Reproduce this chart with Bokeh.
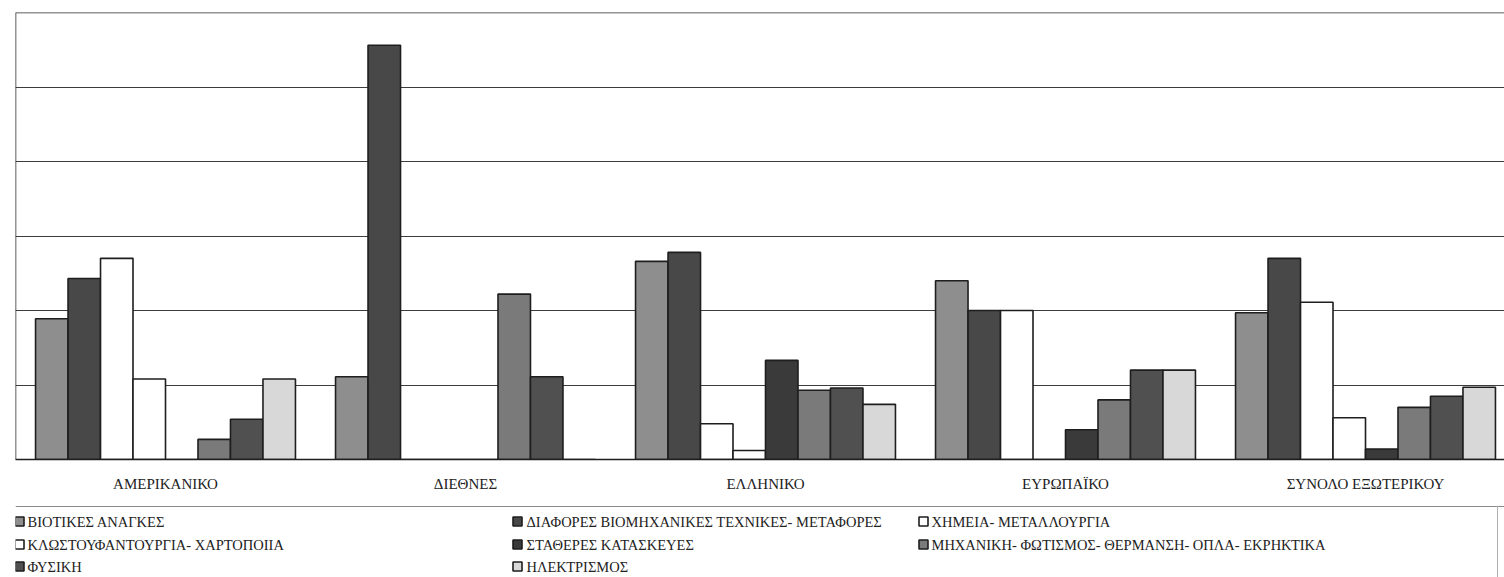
from bokeh.plotting import figure
from bokeh.models import Range1d, FixedTicker, Span, ColumnDataSource
from bokeh.layouts import column
from bokeh.embed import file_html
from bokeh.resources import INLINE
from bokeh.core.properties import value

# ---- data (percent of category) ----
categories = ["ΑΜΕΡΙΚΑΝΙΚΟ", "ΔΙΕΘΝΕΣ", "ΕΛΛΗΝΙΚΟ", "ΕΥΡΩΠΑΪΚΟ", "ΣΥΝΟΛΟ ΕΞΩΤΕΡΙΚΟΥ"]
series_names = [
    "ΒΙΟΤΙΚΕΣ ΑΝΑΓΚΕΣ",
    "ΔΙΑΦΟΡΕΣ ΒΙΟΜΗΧΑΝΙΚΕΣ ΤΕΧΝΙΚΕΣ- ΜΕΤΑΦΟΡΕΣ",
    "ΧΗΜΕΙΑ- ΜΕΤΑΛΛΟΥΡΓΙΑ",
    "ΚΛΩΣΤΟΥΦΑΝΤΟΥΡΓΙΑ- ΧΑΡΤΟΠΟΙΙΑ",
    "ΣΤΑΘΕΡΕΣ ΚΑΤΑΣΚΕΥΕΣ",
    "ΜΗΧΑΝΙΚΗ- ΦΩΤΙΣΜΟΣ- ΘΕΡΜΑΝΣΗ- ΟΠΛΑ- ΕΚΡΗΚΤΙΚΑ",
    "ΦΥΣΙΚΗ",
    "ΗΛΕΚΤΡΙΣΜΟΣ",
]
viotikes = [18.9, 11.1, 26.6, 24.0, 19.7]
diafores = [24.3, 55.6, 27.8, 20.0, 27.0]
chimeia = [27.0, 0.0, 4.8, 20.0, 21.1]
klostoyf = [10.8, 0.0, 1.2, 0.0, 5.6]
statheres = [0.0, 0.0, 13.3, 4.0, 1.4]
michaniki = [2.7, 22.2, 9.3, 8.0, 7.0]
fysiki = [5.4, 11.1, 9.6, 12.0, 8.5]
ilektrismos = [10.8, 0.0, 7.4, 12.0, 9.7]
series_values = [viotikes, diafores, chimeia, klostoyf, statheres, michaniki, fysiki, ilektrismos]
y_ticks = [0, 10, 20, 30, 40, 50, 60]

# ---- styles ----
colors = ["#8e8e8e", "#484848", "#ffffff", "#ffffff", "#3a3a3a", "#7a7a7a", "#505050", "#d8d8d8"]
FONT_NAME = "Liberation Serif"
W = 1504
CAT_PX = 300.0
LEFT = 15
CH = 505
n_ser = len(series_names)
bar_w = 0.1083

p = figure(width=W, height=CH, output_backend="svg", toolbar_location=None,
           x_range=Range1d(0, (W - LEFT) / CAT_PX), y_range=Range1d(0, 60),
           min_border_left=LEFT, min_border_right=0, min_border_top=12, min_border_bottom=46)
p.outline_line_color = None
p.background_fill_color = "white"
p.border_fill_color = "white"

for k in range(n_ser):
    xs = [i + 0.5 + (k - (n_ser - 1) / 2) * bar_w for i in range(len(categories))]
    src = ColumnDataSource(dict(x=xs, top=series_values[k]))
    p.vbar(x="x", top="top", width=bar_w, bottom=0, source=src,
           fill_color=colors[k], line_color="#1e1e1e", line_width=1.6)

p.yaxis.visible = False
p.ygrid.ticker = FixedTicker(ticks=y_ticks)
p.ygrid.grid_line_color = "#3c3c3c"
p.ygrid.grid_line_width = 1.2
p.xgrid.visible = False
p.add_layout(Span(location=0, dimension="height", line_color="#2a2a2a", line_width=1.5))
p.add_layout(Span(location=y_ticks[-1], dimension="width", line_color="#2a2a2a", line_width=1.5))

xa = p.xaxis[0]
xa.ticker = FixedTicker(ticks=[i + 0.5 for i in range(len(categories))])
xa.major_label_overrides = {i + 0.5: c for i, c in enumerate(categories)}
xa.major_tick_out = 0
xa.major_tick_in = 0
xa.minor_tick_out = 0
xa.minor_tick_in = 0
xa.axis_line_color = "#1e1e1e"
xa.axis_line_width = 1.6
xa.major_label_standoff = 16
xa.major_label_text_font = FONT_NAME
xa.major_label_text_font_size = "15px"
xa.major_label_text_color = "#222222"

# ---- legend (its frame is aligned with the chart frame, so x runs from LEFT) ----
LH = 577 - CH
lg = figure(width=W, height=LH, output_backend="svg", toolbar_location=None,
            x_range=Range1d(LEFT, W), y_range=Range1d(LH, 0),
            min_border=0, min_border_left=LEFT, min_border_right=0, min_border_top=0, min_border_bottom=0)
lg.axis.visible = False
lg.grid.visible = False
lg.outline_line_color = None
lg.add_layout(Span(location=1, dimension="width", line_color="#8a8a8a", line_width=1))
lg.add_layout(Span(location=1497, dimension="height", line_color="#b0b0b0", line_width=1))

col_sq = [19, 517, 923]
col_tx = [27, 526, 931]
row_y = [16, 39, 61]
sq_x = [col_sq[i % 3] for i in range(n_ser)]
tx_x = [col_tx[i % 3] for i in range(n_ser)]
ys = [row_y[i // 3] for i in range(n_ser)]
lsrc = ColumnDataSource(dict(sx=sq_x, tx=tx_x, y=ys, c=colors, t=series_names))
lg.rect(x="sx", y="y", width=9, height=9, width_units="screen", height_units="screen",
        fill_color="c", line_color="#1e1e1e", line_width=1.6, source=lsrc)
lg.text(x="tx", y="y", text="t", source=lsrc, text_font=value(FONT_NAME), text_font_size="14.5px",
        text_baseline="middle", text_align="left", text_color="#222222")

layout = column(p, lg, spacing=0)
open("out.html", "w").write(file_html(layout, INLINE))
